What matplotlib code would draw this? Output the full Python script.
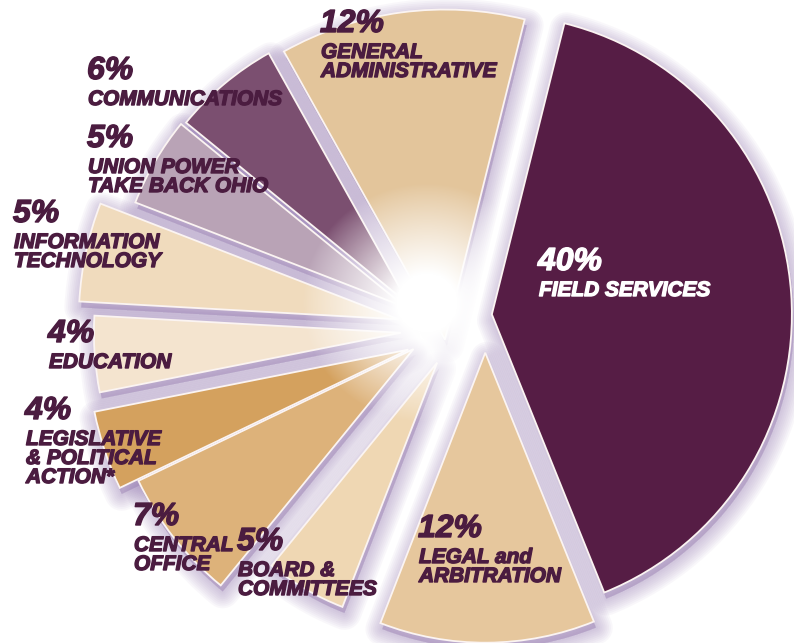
"""Exploded budget pie: share of spending per department."""
import numpy as np
import matplotlib
matplotlib.use("Agg")
from matplotlib import pyplot as plt
from matplotlib import patheffects as pe
from matplotlib.patches import Wedge

# ---- data (percent of budget), counter-clockwise from Field Services ----
labels = ["FIELD SERVICES", "GENERAL\nADMINISTRATIVE", "COMMUNICATIONS",
          "UNION POWER\nTAKE BACK OHIO", "INFORMATION\nTECHNOLOGY", "EDUCATION",
          "LEGISLATIVE\n& POLITICAL\nACTION*", "CENTRAL\nOFFICE",
          "BOARD &\nCOMMITTEES", "LEGAL and\nARBITRATION"]
shares = [40, 12, 6, 5, 5, 4, 4, 7, 5, 12]

# ---- styling ----
colors = ["#561d45", "#e3c59b", "#7b4f70", "#b9a3b6", "#f0dbbd", "#f4e4cf",
          "#d4a15e", "#ddb27a", "#efd7b3", "#e6c79d"]
explode = [52, -22, 30, 35, 40, 40, 40, 40, 40, 35]     # px, radial
shift = [0, -2, 15, 8, 10, 12, 20, 8, 20, 45]           # px, tangential
radius = [300, 330, 288, 290, 320, 307, 320, 305, 262, 290]
on_top = [True, False, False, False, False, False, False, False, False, True]
text_col = ["white"] + ["#4b1c40"] * 9
# cap-top / left of each percent figure, image pixels (x right, y down)
label_xy = [(538, 253), (320, 15), (87, 62), (87, 130), (13, 205),
            (48, 325), (25, 402), (133, 508), (237, 533), (418, 520)]

W, H = 794, 643
centre = np.array([440.0, H - 318.0])
start = -68.0

plt.rcParams["font.family"] = ["Liberation Sans", "DejaVu Sans"]

fig = plt.figure(figsize=(W / 100, H / 100), dpi=100)
ax = fig.add_axes([0, 0, 1, 1])
ax.set_xlim(0, W)
ax.set_ylim(0, H)
ax.axis("off")

ends = start + 3.6 * np.cumsum(shares)
begins = ends - 3.6 * np.asarray(shares)
mids = np.radians((begins + ends) / 2)

apexes = []
for m, e, s in zip(mids, explode, shift):
    radial = np.array([np.cos(m), np.sin(m)])
    tangent = np.array([-np.sin(m), np.cos(m)])
    apexes.append(centre + e * radial + s * tangent)


def draw_slice(p, r, t1, t2, c, z):
    # soft lavender shadow, then the slice itself
    for k in range(10):
        ax.add_patch(Wedge(p + np.array([2, -6]), r, t1, t2,
                           facecolor="#9a7fb6", edgecolor="#9a7fb6",
                           lw=1 + 2.6 * k, alpha=0.055, joinstyle="round",
                           zorder=z))
    ax.add_patch(Wedge(p, r, t1, t2, facecolor=c, edgecolor="#fbf4f2",
                       lw=1.3, zorder=z + 0.5))


for i in range(len(shares)):
    z = 6 if on_top[i] else 2
    draw_slice(apexes[i], radius[i], begins[i], ends[i], colors[i], z)

# white burst in the middle
gx, gy = np.meshgrid(np.linspace(-1, 1, 300), np.linspace(-1, 1, 300))
rr = np.hypot(gx, gy)
glow = np.ones((300, 300, 4))
glow[..., 3] = np.clip((1.0 - rr) / 0.75, 0, 1) ** 0.9
gc = (432, H - 303)
ax.imshow(glow, extent=[gc[0] - 130, gc[0] + 120, gc[1] - 120, gc[1] + 120],
          origin="lower", zorder=4, interpolation="bilinear")

fp = dict(fontweight="bold", style="italic", ha="left", va="top", zorder=8)
for v, lab, (x, y), col in zip(shares, labels, label_xy, text_col):
    heavy = [pe.withStroke(linewidth=1.0, foreground=col)]
    ax.text(x, H - y + 6, f"{v}%", fontsize=23, color=col,
            path_effects=heavy, **fp)
    ax.text(x + 1, H - y - 28, lab, fontsize=15, color=col,
            linespacing=1.0, path_effects=heavy, **fp)

fig.savefig("out.png", dpi=100, facecolor="white")
